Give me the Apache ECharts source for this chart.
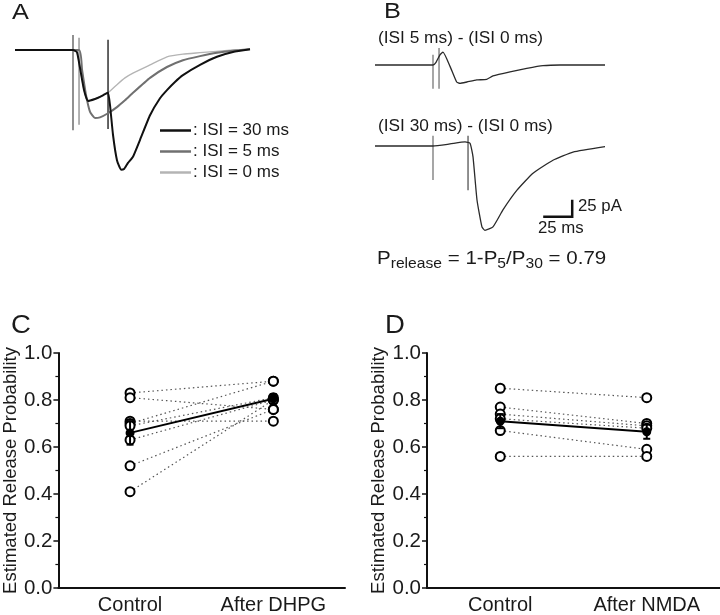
<!DOCTYPE html>
<html><head><meta charset="utf-8">
<script src="https://cdn.jsdelivr.net/npm/echarts/dist/echarts.min.js"></script>
<style>html,body{margin:0;padding:0;background:#fff}#main{width:720px;height:615px}</style>
</head><body><div id="main"></div>
<script>
// ---------- Panel A traces: time (ms from first stimulus), current (pA) ----------
const aT30 = [-50,0,3.4,6,9.5,12.9,19,23.3,27.6,30.2,31.9,34.5,37.9,41.4,44,47.4,51.7,57.8,66.4,75,81,87.9,94.8,109.5,124.1,137.9,152.6];
const aI30 = [0,0,-3,-26,-59,-75,-72,-69,-65,-63,-81,-125,-162,-176,-175,-166,-157,-132,-96,-71,-59,-47,-37,-22,-10,-3,1];
const aT5  = [-50,5.2,7.8,11.2,14.7,19,23.3,30.2,37.9,44.8,51.7,66.4,81,94.8,109.5,124.1,137.9,152.6];
const aI5  = [0,0,-29,-66,-91,-100,-99,-93,-84,-74,-63,-41,-25,-15,-9,-4,-1,1];
const aT0  = [-50,0,3.4,6,9.5,12.9,19,23.3,30.2,37.9,44.8,51.7,66.4,81,94.8,109.5,137.9,152.6];
const aI0  = [0,0,-3,-26,-59,-75,-72,-69,-63,-51,-41,-34,-22,-10,-6,-4,0,1];
const aArtT = [0, 5.2, 30.2];
const aArtTop = [22, 18, 15];
const aArtBot = [-118, -110, -116];
const legendNames = ['ISI = 30 ms', 'ISI = 5 ms', 'ISI = 0 ms'];

// ---------- Panel B difference traces ----------
const b1T = [-50,0,2.6,6,8.6,14.7,20.4,23.3,29.3,37.7,46.3,51.7,66.4,80.8,94.8,109.5,148.3];
const b1I = [0,0,4,15,19,-2,-25,-27,-25,-22,-21,-16,-10,-5,-1,0,0];
const b1ArtT = [0, 5.2];
const b1ArtTop = [15, 25];
const b1ArtBot = [-35, -35];
const b2T = [-50,0,14.7,27.6,31.9,34.5,37.9,42.2,44.8,51.7,60.3,72.4,86.2,103.4,120.7,148.3];
const b2I = [0,0,3,6,4,-16,-79,-119,-124,-119,-94,-65,-40,-21,-9,-1];
const b2ArtT = [0, 30.2];
const b2ArtTop = [15, 15];
const b2ArtBot = [-50, -65];
const scaleT = [95, 120, 120];   // 25 ms
const scaleI = [-104, -104, -79]; // 25 pA

// ---------- Panel C ----------
const cCats = ['Control', 'After DHPG'];
const cControl = [0.83, 0.81, 0.71, 0.70, 0.69, 0.63, 0.52, 0.41];
const cAfter   = [0.88, 0.76, 0.71, 0.88, 0.81, 0.80, 0.76, 0.80];
const cMean = [0.66, 0.805];
const cSem  = [0.05, 0.02];

// ---------- Panel D ----------
const dCats = ['Control', 'After NMDA'];
const dControl = [0.85, 0.77, 0.74, 0.72, 0.67, 0.56];
const dAfter   = [0.81, 0.70, 0.69, 0.68, 0.59, 0.56];
const dMean = [0.71, 0.665];
const dSem  = [0.03, 0.03];

const yTicks = [0, 0.2, 0.4, 0.6, 0.8, 1.0];

// ---------------------------------------------------------------
const FF = '"Liberation Sans", Arial, sans-serif';
const zip = (t, v) => t.map((x, i) => [x, v[i]]);

function trace(name, gi, t, v, color, width, z) {
  return { type: 'line', name, xAxisIndex: gi, yAxisIndex: gi, data: zip(t, v),
    symbol: 'none', smooth: 0.15, z: z || 2, silent: true,
    lineStyle: { color, width }, itemStyle: { color } };
}
function artifacts(gi, ts, tops, bots, colors) {
  return ts.map((t, i) => ({ type: 'line', xAxisIndex: gi, yAxisIndex: gi, symbol: 'none', silent: true, z: 3,
    data: [[t, tops[i]], [t, bots[i]]], lineStyle: { color: colors[i], width: 1.3 } }));
}
function hiddenX(min, max) { return { type: 'value', min, max, show: false }; }
function hiddenY(min, max) { return { type: 'value', min, max, show: false }; }

function catX(gi, cats) {
  return { type: 'category', gridIndex: gi, data: cats, boundaryGap: true,
    axisLine: { lineStyle: { color: '#111', width: 2 } },
    axisTick: { alignWithLabel: true, length: 5, lineStyle: { color: '#111', width: 2 } },
    axisLabel: { fontSize: 20, color: '#1a1a1a', margin: 7, fontFamily: FF } };
}
function probY(gi) {
  return { type: 'value', gridIndex: gi, min: 0, max: 1, interval: 0.2,
    name: 'Estimated Release Probability', nameLocation: 'middle', nameGap: 38,
    nameTextStyle: { fontSize: 18.5, color: '#1a1a1a', fontFamily: FF },
    axisLine: { show: true, lineStyle: { color: '#111', width: 2 } },
    axisTick: { show: true, length: 5, lineStyle: { color: '#111', width: 1.5 } },
    minorTick: { show: true, splitNumber: 2, length: 3, lineStyle: { color: '#111', width: 1.2 } },
    splitLine: { show: false },
    axisLabel: { fontSize: 20.5, color: '#1a1a1a', margin: 6, fontFamily: FF,
      formatter: v => (yTicks.indexOf(v) >= 0 ? v.toFixed(1) : '') } };
}
function pairPanel(gi, ctrl, after, mean, sem) {
  const s = [];
  ctrl.forEach((c, i) => s.push({ type: 'line', xAxisIndex: gi, yAxisIndex: gi, symbol: 'none', silent: true, z: 2,
    data: [[0, c], [1, after[i]]], lineStyle: { color: '#555', width: 1.2, type: [1.5, 3] } }));
  s.push({ type: 'scatter', xAxisIndex: gi, yAxisIndex: gi, z: 4, silent: true, symbol: 'circle', symbolSize: 9,
    data: ctrl.map(v => [0, v]).concat(after.map(v => [1, v])),
    itemStyle: { color: '#fff', borderColor: '#000', borderWidth: 2, opacity: 1 } });
  s.push({ type: 'custom', xAxisIndex: gi, yAxisIndex: gi, z: 5, silent: true,
    data: mean.map((m, i) => [i, m - sem[i], m + sem[i]]),
    renderItem(params, api) {
      const lo = api.coord([api.value(0), api.value(1)]);
      const hi = api.coord([api.value(0), api.value(2)]);
      const w = 3.5, st = { stroke: '#000', lineWidth: 2 };
      return { type: 'group', children: [
        { type: 'line', shape: { x1: lo[0], y1: lo[1], x2: hi[0], y2: hi[1] }, style: st },
        { type: 'line', shape: { x1: lo[0] - w, y1: lo[1], x2: lo[0] + w, y2: lo[1] }, style: st },
        { type: 'line', shape: { x1: hi[0] - w, y1: hi[1], x2: hi[0] + w, y2: hi[1] }, style: st }
      ] };
    } });
  s.push({ type: 'line', xAxisIndex: gi, yAxisIndex: gi, z: 6, silent: true, symbol: 'circle', symbolSize: 9,
    data: mean.map((m, i) => [i, m]), lineStyle: { color: '#000', width: 2 }, itemStyle: { color: '#000' } });
  return s;
}

const series = [].concat(
  artifacts(0, aArtT, aArtTop, aArtBot, ['#555', '#888', '#111']),
  [trace(legendNames[2], 0, aT0, aI0, '#b4b4b4', 1.3, 2),
   trace(legendNames[1], 0, aT5, aI5, '#707070', 2, 3),
   trace(legendNames[0], 0, aT30, aI30, '#111', 2, 4)],
  artifacts(1, b1ArtT, b1ArtTop, b1ArtBot, ['#777', '#777']),
  [trace('b1', 1, b1T, b1I, '#2a2a2a', 1.3, 4)],
  artifacts(2, b2ArtT, b2ArtTop, b2ArtBot, ['#777', '#555']),
  [trace('b2', 2, b2T, b2I, '#2a2a2a', 1.3, 4),
   { type: 'line', xAxisIndex: 2, yAxisIndex: 2, symbol: 'none', silent: true, z: 5,
     data: zip(scaleT, scaleI), lineStyle: { color: '#111', width: 2.5, join: 'miter' } }],
  pairPanel(3, cControl, cAfter, cMean, cSem),
  pairPanel(4, dControl, dAfter, dMean, dSem)
);

function txt(x, y, text, size, sx, extra) {
  return Object.assign({ type: 'text', x, y, scaleX: sx || 1, silent: true,
    style: { text, font: size + 'px ' + FF, fill: '#1a1a1a', textVerticalAlign: 'middle' } }, extra || {});
}

const option = {
  animation: false,
  backgroundColor: '#fff',
  textStyle: { fontFamily: FF },
  grid: [
    { left: 15, top: 22.8, width: 237.8, height: 156.4 },
    { left: 375, top: 37.8, width: 232, height: 68 },
    { left: 375, top: 118.8, width: 232, height: 122.4 },
    { left: 53, top: 353, width: 292, height: 237 },
    { left: 427, top: 353, width: 293, height: 237 }
  ],
  xAxis: [
    Object.assign(hiddenX(-50, 155), { gridIndex: 0 }),
    Object.assign(hiddenX(-50, 150), { gridIndex: 1 }),
    Object.assign(hiddenX(-50, 150), { gridIndex: 2 }),
    catX(3, cCats), catX(4, dCats)
  ],
  yAxis: [
    Object.assign(hiddenY(-190, 40), { gridIndex: 0 }),
    Object.assign(hiddenY(-60, 40), { gridIndex: 1 }),
    Object.assign(hiddenY(-140, 40), { gridIndex: 2 }),
    probY(3), probY(4)
  ],
  legend: {
    data: legendNames, orient: 'vertical', left: 155, top: 117, icon: 'rect',
    itemWidth: 31, itemHeight: 2.5, itemGap: 4, selectedMode: false,
    formatter: ': {name}',
    textStyle: { fontSize: 17, lineHeight: 17, color: '#1a1a1a', fontFamily: FF, padding: [0, 0, 0, -3] }
  },
  graphic: [
    txt(12, 13, 'A', 22, 1.15),
    txt(384, 12, 'B', 22, 1.15),
    txt(11, 326, 'C', 25, 1.1),
    txt(385, 326, 'D', 25, 1.1),
    txt(378, 39, '(ISI 5 ms) - (ISI 0 ms)', 16, 1.08),
    txt(378, 127, '(ISI 30 ms) - (ISI 0 ms)', 16, 1.08),
    txt(578, 207, '25 pA', 16, 1.05),
    txt(538, 229, '25 ms', 16, 1.05),
    { type: 'text', x: 377, y: 260, scaleX: 1.08, silent: true,
      style: {
        text: '{n|P}{s|release}{n| = 1-P}{s|5}{n|/P}{s|30}{n| = 0.79}',
        textVerticalAlign: 'middle', fill: '#1a1a1a',
        rich: {
          n: { fontSize: 19, fontFamily: FF, fill: '#1a1a1a', verticalAlign: 'bottom', lineHeight: 22, padding: [0, 0, 3, 0] },
          s: { fontSize: 14.5, fontFamily: FF, fill: '#1a1a1a', verticalAlign: 'bottom', lineHeight: 22 }
        }
      } }
  ],
  series
};

const chart = echarts.init(document.getElementById('main'), null, { renderer: 'canvas' });
chart.setOption(option);
</script>
</body></html>
